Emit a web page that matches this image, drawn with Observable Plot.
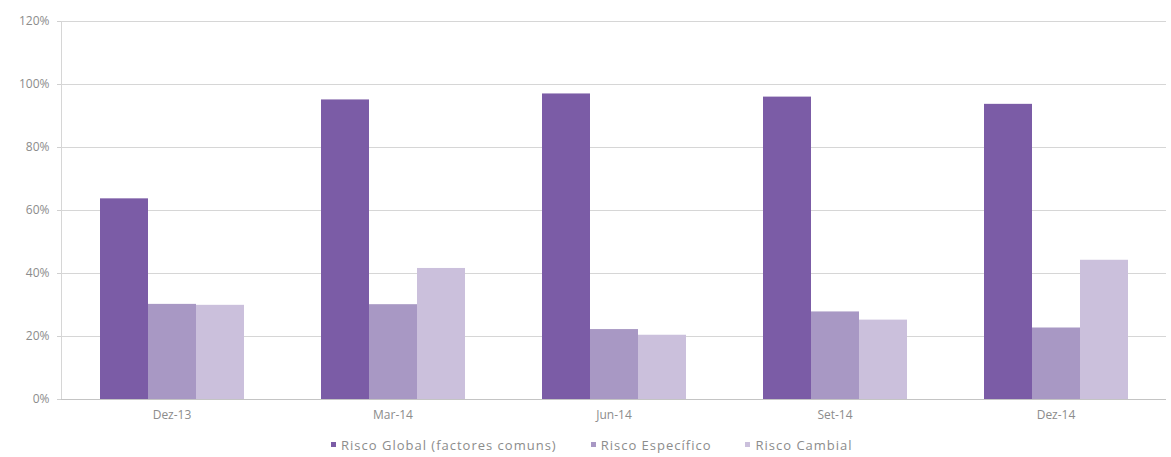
<!DOCTYPE html>
<html>
<head>
<meta charset="utf-8">
<script src="https://cdn.jsdelivr.net/npm/d3@7"></script>
<script src="https://cdn.jsdelivr.net/npm/@observablehq/plot@0.6"></script>
<style>
  body { margin: 0; background: #fff; font-family: "Open Sans", sans-serif; }
  #chart svg { display: block; }
  .legend { display: flex; height: 29px; align-items: center; font-size: 13px; letter-spacing: 1px; color: #8c8c8c; padding-left: 331px; }
  .legend .item { display: flex; align-items: center; margin-right: 34px; }
  .legend .sw { width: 5px; height: 5px; margin-right: 5px; }
</style>
</head>
<body>
<div id="chart"></div>
<div class="legend" id="legend"></div>
<script>
// Quarter-end dates
const periods = ["Dez-13", "Mar-14", "Jun-14", "Set-14", "Dez-14"];
// Risk decomposition series (% of total)
const seriesNames = ["Risco Global (factores comuns)", "Risco Específico", "Risco Cambial"];
const riscoGlobal = [63.7, 95.1, 97.0, 96.0, 93.7];
const riscoEspecifico = [30.2, 30.1, 22.2, 27.8, 22.7];
const riscoCambial = [29.9, 41.6, 20.4, 25.2, 44.2];
const yTicks = [0, 20, 40, 60, 80, 100, 120];
const colors = ["#7b5ca6", "#a898c4", "#cbc0dc"];

const rows = [];
[riscoGlobal, riscoEspecifico, riscoCambial].forEach((vals, s) => {
  periods.forEach((p, i) => rows.push({period: p, series: seriesNames[s], value: vals[i]}));
});

// Facets touch each other so gridlines run continuously; the gap between
// groups comes from the outer padding of the inner x scale.
const chart = Plot.plot({
  width: 1171,
  height: 430,
  marginTop: 21,
  marginBottom: 31,
  marginLeft: 59,
  marginRight: 3,
  style: {fontFamily: "Open Sans, sans-serif", fontSize: "12px", color: "#888"},
  fx: {domain: periods, paddingInner: 0, paddingOuter: 0, label: null},
  x: {domain: seriesNames, paddingInner: 0, paddingOuter: 0.78, axis: null},
  y: {domain: [0, 120], label: null},
  color: {domain: seriesNames, range: colors},
  marks: [
    Plot.gridY(yTicks, {stroke: "#d6d6d6", strokeOpacity: 1}),
    Plot.frame({anchor: "left", facetAnchor: "left", stroke: "#d6d6d6"}),
    Plot.barY(rows, {fx: "period", x: "series", y: "value", fill: "series"}),
    Plot.ruleY([0], {stroke: "#c4c4c4"}),
    Plot.axisY({ticks: yTicks, tickFormat: d => d + "%", tickSize: 4, tickPadding: 8, stroke: "#d0d0d0", fill: "#8c8c8c", label: null}),
    Plot.axisFx({anchor: "bottom", tickSize: 0, tickPadding: 11, fill: "#8c8c8c", label: null})
  ]
});
document.getElementById("chart").append(chart);

const legend = document.getElementById("legend");
seriesNames.forEach((name, i) => {
  const item = document.createElement("div");
  item.className = "item";
  const sw = document.createElement("span");
  sw.className = "sw";
  sw.style.background = colors[i];
  item.append(sw, document.createTextNode(name));
  legend.append(item);
});
</script>
</body>
</html>
